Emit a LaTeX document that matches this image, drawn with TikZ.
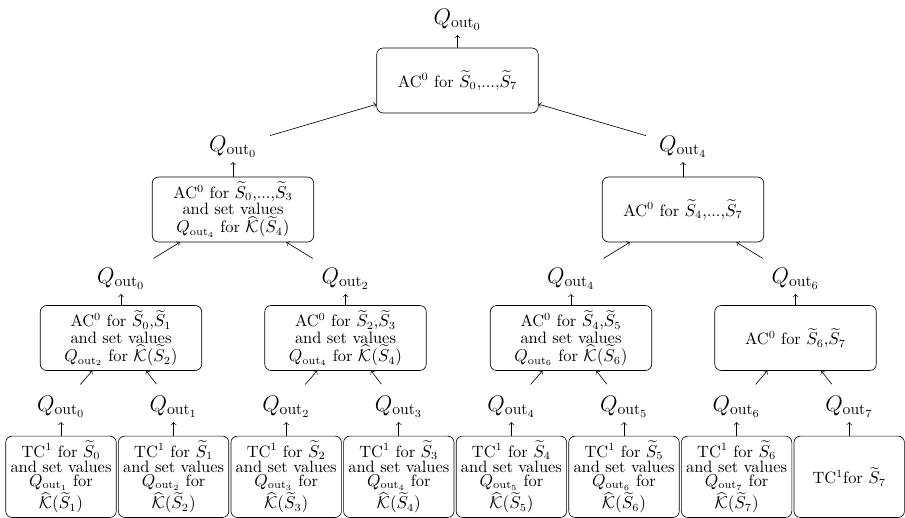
\documentclass[tikz,border=0pt]{standalone}
\usepackage{amsmath,amssymb}
\newcommand\Stl[1]{\widetilde{S}_{#1}}
\newcommand\Qout[1]{Q_{\mathrm{out}_{#1}}}
\newcommand\Khat[1]{\widehat{\mathcal{K}}(\widetilde{S}_{#1})}
% lines are stacked by their real heights, with 1pt between them
\newcommand\boxfont{\fontsize{10.5pt}{0pt}\selectfont\lineskip=1.1pt\lineskiplimit=0pt\relax}
\tikzset{
  box/.style={draw, rounded corners=4pt, align=center, inner sep=1pt, font=\boxfont},
  leafbox/.style={box, minimum width=70.6pt, minimum height=52pt},
  joinbox/.style={box, minimum width=103.2pt, minimum height=41.5pt},
  qlab/.style={font=\fontsize{14.4pt}{16pt}\selectfont, inner sep=3pt},
  uparr/.style={->},
  slantarr/.style={->, shorten <=5.5pt}
}
\begin{document}
\begin{tikzpicture}[x=0.6394pt, y=-0.6394pt]
\useasboundingbox (0,0) rectangle (905,518);

% leaves
\node[leafbox] (t0) at (61,476.8)    {TC$^1$ for $\Stl{0}$\\ and set values\\ $\Qout{1}$ for\\ $\Khat{1}$};
\node[leafbox] (t1) at (173.6,476.8) {TC$^1$ for $\Stl{1}$\\ and set values\\ $\Qout{2}$ for\\ $\Khat{2}$};
\node[leafbox] (t2) at (286.2,476.8) {TC$^1$ for $\Stl{2}$\\ and set values\\ $\Qout{3}$ for\\ $\Khat{3}$};
\node[leafbox] (t3) at (398.8,476.8) {TC$^1$ for $\Stl{3}$\\ and set values\\ $\Qout{4}$ for\\ $\Khat{4}$};
\node[leafbox] (t4) at (511.4,476.8) {TC$^1$ for $\Stl{4}$\\ and set values\\ $\Qout{5}$ for\\ $\Khat{5}$};
\node[leafbox] (t5) at (624,476.8)   {TC$^1$ for $\Stl{5}$\\ and set values\\ $\Qout{6}$ for\\ $\Khat{6}$};
\node[leafbox] (t6) at (736.6,476.8) {TC$^1$ for $\Stl{6}$\\ and set values\\ $\Qout{7}$ for\\ $\Khat{7}$};
\node[leafbox] (t7) at (849.2,476.8) {TC$^1$for $\Stl{7}$};

% outputs of the leaves
\node[qlab] (q0) at (61,406.5)    {$\Qout{0}$};
\node[qlab] (q1) at (173.6,406.5) {$\Qout{1}$};
\node[qlab] (q2) at (286.2,406.5) {$\Qout{2}$};
\node[qlab] (q3) at (398.8,406.5) {$\Qout{3}$};
\node[qlab] (q4) at (511.4,406.5) {$\Qout{4}$};
\node[qlab] (q5) at (624,406.5)   {$\Qout{5}$};
\node[qlab] (q6) at (736.6,406.5) {$\Qout{6}$};
\node[qlab] (q7) at (849.2,406.5) {$\Qout{7}$};

% second level
\node[joinbox] (a01) at (121,338)   {AC$^0$ for $\Stl{0}$,$\Stl{1}$\\ and set values\\ $\Qout{2}$ for $\Khat{2}$};
\node[joinbox] (a23) at (345.5,338) {AC$^0$ for $\Stl{2}$,$\Stl{3}$\\ and set values\\ $\Qout{4}$ for $\Khat{4}$};
\node[joinbox] (a45) at (571,338)   {AC$^0$ for $\Stl{4}$,$\Stl{5}$\\ and set values\\ $\Qout{6}$ for $\Khat{6}$};
\node[joinbox] (a67) at (795.5,338) {AC$^0$ for $\Stl{6}$,$\Stl{7}$};

\node[qlab] (r0) at (121,278.5)   {$\Qout{0}$};
\node[qlab] (r2) at (345.5,278.5) {$\Qout{2}$};
\node[qlab] (r4) at (571,278.5)   {$\Qout{4}$};
\node[qlab] (r6) at (795.5,278.5) {$\Qout{6}$};

% third level
\node[joinbox] (a03) at (233,209.5) {AC$^0$ for $\Stl{0}$,...,$\Stl{3}$\\ and set values\\ $\Qout{4}$ for $\Khat{4}$};
\node[joinbox] (a47) at (683,209.5) {AC$^0$ for $\Stl{4}$,...,$\Stl{7}$};

\node[qlab] (s0) at (233,146.5) {$\Qout{0}$};
\node[qlab] (s4) at (683,146.5) {$\Qout{4}$};

% root
\node[joinbox] (a07) at (457.5,80.5) {AC$^0$ for $\Stl{0}$,...,$\Stl{7}$};
\node[qlab] (top) at (457.5,19.5) {$\Qout{0}$};

% connectors
\foreach \i in {0,...,7} \draw[uparr] (t\i.north) -- (q\i.south);
\draw[slantarr] (q0) -- (a01);
\draw[slantarr] (q1) -- (a01);
\draw[slantarr] (q2) -- (a23);
\draw[slantarr] (q3) -- (a23);
\draw[slantarr] (q4) -- (a45);
\draw[slantarr] (q5) -- (a45);
\draw[slantarr] (q6) -- (a67);
\draw[slantarr] (q7) -- (a67);

\draw[uparr] (a01.north) -- (r0.south);
\draw[uparr] (a23.north) -- (r2.south);
\draw[uparr] (a45.north) -- (r4.south);
\draw[uparr] (a67.north) -- (r6.south);
\draw[slantarr] (r0) -- (a03);
\draw[slantarr] (r2) -- (a03);
\draw[slantarr] (r4) -- (a47);
\draw[slantarr] (r6) -- (a47);

\draw[uparr] (a03.north) -- (s0.south);
\draw[uparr] (a47.north) -- (s4.south);
\draw[slantarr] (s0) -- (a07);
\draw[slantarr] (s4) -- (a07);

\draw[uparr] (a07.north) -- (top.south);
\end{tikzpicture}
\end{document}
